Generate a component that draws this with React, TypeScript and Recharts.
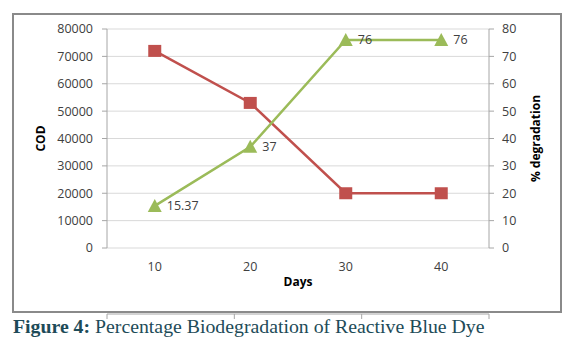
import React from 'react';
import { LineChart, Line, XAxis, YAxis, CartesianGrid, LabelList } from 'recharts';

const days = ['10', '20', '30', '40'];
const codValues = [72000, 53000, 20000, 20000];
const degradationValues = [15.37, 37, 76, 76];
const codTicks = [0, 10000, 20000, 30000, 40000, 50000, 60000, 70000, 80000];
const degTicks = [0, 10, 20, 30, 40, 50, 60, 70, 80];
const edgeTicks = [0, 1, 2, 3, 4];

const data = days.map((d, i) => ({ day: d, cod: codValues[i], deg: degradationValues[i] }));

const RED = '#C0504D';
const GREEN = '#9BBB59';
const AXIS = '#a6a6a6';
const GRID = '#d9d9d9';
const TXT = '#404040';
const FONT = '"Open Sans", sans-serif';

const Square = (props: any) => {
  const { cx, cy } = props;
  if (cx == null || cy == null) return <g />;
  return <rect x={cx - 6.5} y={cy - 6} width={13} height={12} fill={RED} />;
};

const Triangle = (props: any) => {
  const { cx, cy } = props;
  if (cx == null || cy == null) return <g />;
  return <polygon points={`${cx - 7},${cy + 6} ${cx + 7},${cy + 6} ${cx},${cy - 7}`} fill={GREEN} />;
};

const leftLabel = (props: any) => {
  const vb = props.viewBox;
  const x = vb.x + 10;
  const y = vb.y + vb.height / 2;
  return (
    <text x={x} y={y} transform={`rotate(-90 ${x} ${y})`} textAnchor="middle" dominantBaseline="central"
      fontFamily={FONT} fontSize={12} fontWeight="bold" fill="#000">COD</text>
  );
};

const rightLabel = (props: any) => {
  const vb = props.viewBox;
  const x = vb.x + vb.width - 14;
  const y = vb.y + vb.height / 2;
  return (
    <text x={x} y={y} transform={`rotate(-90 ${x} ${y})`} textAnchor="middle" dominantBaseline="central"
      fontFamily={FONT} fontSize={12} fontWeight="bold" fill="#000">% degradation</text>
  );
};

const bottomLabel = (props: any) => {
  const vb = props.viewBox;
  const x = vb.x + vb.width / 2;
  const y = vb.y + 33;
  return (
    <text x={x} y={y} textAnchor="middle" dominantBaseline="central"
      fontFamily={FONT} fontSize={12} fontWeight="bold" fill="#000">Days</text>
  );
};

const tickStyle = { fontFamily: FONT, fontSize: 12.5, fill: TXT };

export default function App() {
  return (
    <div style={{ position: 'absolute', left: 0, top: 0, width: 579, height: 349, background: '#fff' }}>
      <div style={{ position: 'absolute', left: 12, top: 13, width: 550, height: 300, border: '2px solid #8a8a8a', boxSizing: 'border-box' }} />
      <div style={{ position: 'absolute', left: 0, top: 0 }}>
        <LineChart width={579} height={320} data={data} margin={{ top: 29, right: 30, bottom: 0, left: 30 }}>
          <CartesianGrid vertical={false} stroke={GRID} yAxisId="cod" />
          <XAxis xAxisId="edge" type="number" domain={[0, 4]} ticks={edgeTicks} height={6}
            tick={() => <g />} tickSize={5} axisLine={{ stroke: AXIS }} tickLine={{ stroke: AXIS }} />
          <XAxis dataKey="day" scale="band" height={66} axisLine={false} tickLine={false} tickMargin={8} tick={tickStyle}
            label={bottomLabel} />
          <YAxis yAxisId="cod" domain={[0, 80000]} ticks={codTicks} width={77} tickSize={5} tickMargin={9}
            axisLine={{ stroke: AXIS }} tickLine={{ stroke: AXIS }} tick={tickStyle} label={leftLabel} />
          <YAxis yAxisId="deg" orientation="right" domain={[0, 80]} ticks={degTicks} width={60} tickSize={5} tickMargin={8}
            axisLine={{ stroke: AXIS }} tickLine={{ stroke: AXIS }} tick={{ ...tickStyle, textAnchor: 'start' }} label={rightLabel} />
          <Line yAxisId="cod" dataKey="cod" stroke={RED} strokeWidth={2.5} dot={<Square />} activeDot={false} isAnimationActive={false} />
          <Line yAxisId="deg" dataKey="deg" stroke={GREEN} strokeWidth={2.5} dot={<Triangle />} activeDot={false} isAnimationActive={false}>
            <LabelList dataKey="deg" position="right" offset={12} style={{ fontFamily: FONT, fontSize: 12.5, fill: TXT }} />
          </Line>
        </LineChart>
      </div>
      <div style={{ position: 'absolute', left: 13, top: 315, fontFamily: '"Liberation Serif", "Times New Roman", serif', fontSize: 19.8, color: '#1d4b58', whiteSpace: 'nowrap' }}>
        <b>Figure 4:</b> Percentage Biodegradation of Reactive Blue Dye
      </div>
    </div>
  );
}
